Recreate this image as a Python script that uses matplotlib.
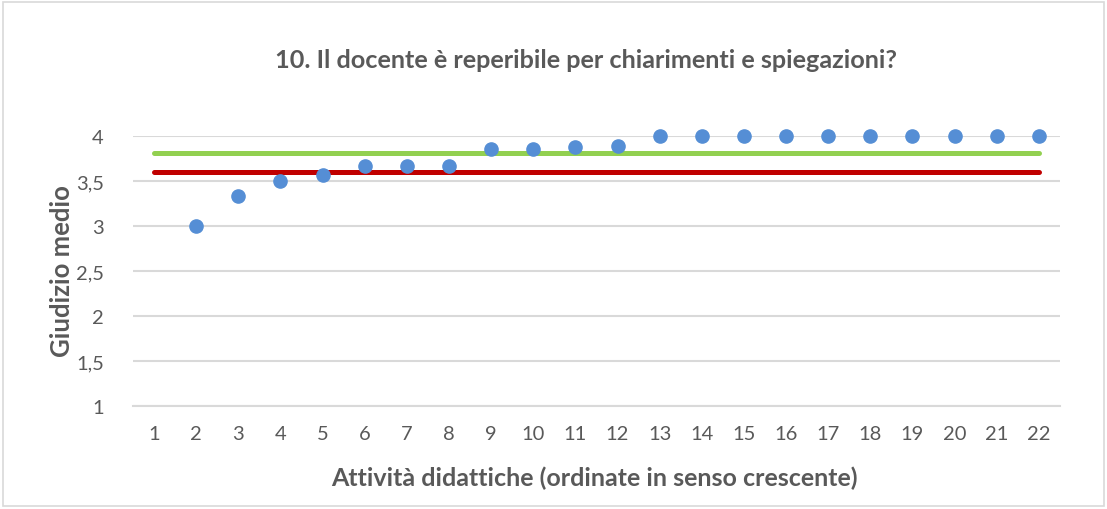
import matplotlib.pyplot as plt
from matplotlib.ticker import FuncFormatter
from matplotlib.patches import Rectangle

attivita = list(range(2, 23))
giudizio = [3.0, 3.33, 3.5, 3.57, 3.67, 3.67, 3.67, 3.86, 3.86, 3.875, 3.89,
            4.0, 4.0, 4.0, 4.0, 4.0, 4.0, 4.0, 4.0, 4.0, 4.0]
linea_x = [1, 22]
media_verde = [3.81, 3.81]
media_rossa = [3.6, 3.6]

plt.rcParams['font.family'] = ['Lato', 'DejaVu Sans']
grey = '#595959'

fig = plt.figure(figsize=(11.07, 5.10), dpi=100)
fig.patches.append(Rectangle((0.003, 0.006), 0.994, 0.988, transform=fig.transFigure,
                             fill=False, edgecolor='#d9d9d9', linewidth=1.2))
ax = fig.add_axes([0.1201, 0.202, 0.8374, 0.5294])

ax.plot(linea_x, media_verde, color='#92D050', lw=3.6, solid_capstyle='round', zorder=2)
ax.plot(linea_x, media_rossa, color='#C00000', lw=3.6, solid_capstyle='round', zorder=2)
ax.plot(attivita, giudizio, 'o', color='#558ED5', markersize=9.5, clip_on=False, zorder=3)

ax.set_xlim(0.5, 22.5)
ax.set_ylim(1, 4)
ax.set_xticks(range(1, 23))
ax.set_yticks([1, 1.5, 2, 2.5, 3, 3.5, 4])
ax.yaxis.set_major_formatter(FuncFormatter(lambda v, p: f'{v:g}'.replace('.', ',')))
ax.grid(axis='y', color='#d9d9d9', lw=1.5, zorder=0)
ax.set_axisbelow(True)
for s in ['top', 'right', 'left']:
    ax.spines[s].set_visible(False)
ax.spines['bottom'].set_color('#d9d9d9')
ax.spines['bottom'].set_linewidth(1.5)
ax.tick_params(length=0, labelsize=14.5, labelcolor=grey)
ax.tick_params(axis='y', pad=21)
ax.tick_params(axis='x', pad=14)

fig.text(0.529, 0.882, '10. Il docente è reperibile per chiarimenti e spiegazioni?',
         ha='center', va='center', fontsize=18.2, fontweight='bold', color=grey)
fig.text(0.537, 0.063, 'Attività didattiche (ordinate in senso crescente)',
         ha='center', va='center', fontsize=18, fontweight='bold', color=grey)
fig.text(0.056, 0.469, 'Giudizio medio', ha='center', va='center', rotation=90,
         fontsize=18.5, fontweight='bold', color=grey)

fig.savefig('out.png', dpi=100)
